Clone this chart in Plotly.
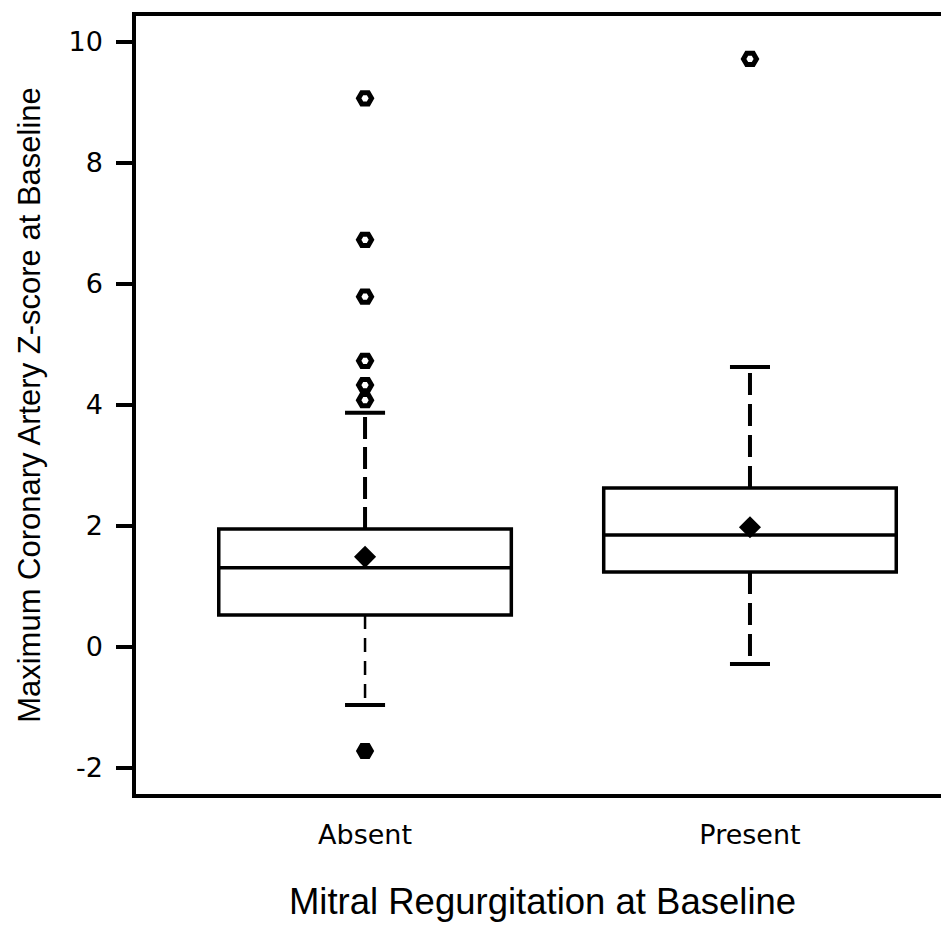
import plotly.graph_objects as go

# ---- data ----
categories = ["Absent", "Present"]
cat_pos = [0, 1]
q1 = [0.53, 1.24]
median = [1.31, 1.85]
q3 = [1.95, 2.63]
lower_whisker = [-0.96, -0.28]
upper_whisker = [3.87, 4.63]
means = [1.49, 1.98]
outliers_absent_high = [4.08, 4.33, 4.73, 5.79, 6.73, 9.07]
outliers_absent_low = [-1.72]
outliers_present_high = [9.72]

y_ticks = [-2, 0, 2, 4, 6, 8, 10]
y_tick_labels = ["-2", "0", "2", "4", "6", "8", "10"]

BOX_W = 0.76
CAP_HALF = 0.052
BLACK = "black"

fig = go.Figure()

# boxes (quartiles + median)
for i in range(len(categories)):
    fig.add_trace(go.Box(
        x=[cat_pos[i]], q1=[q1[i]], median=[median[i]], q3=[q3[i]],
        lowerfence=[q1[i]], upperfence=[q3[i]],
        width=BOX_W, whiskerwidth=0,
        fillcolor="rgba(0,0,0,0)",
        line=dict(color=BLACK, width=3.5),
        boxpoints=False, showlegend=False, hoverinfo="skip",
    ))

# dashed whiskers + caps
whisker_styles = [
    (dict(width=4, dash="22px,8px"), dict(width=2.5, dash="14px,9px")),
    (dict(width=4, dash="22px,9px"), dict(width=4, dash="22px,9px")),
]
for i in range(len(categories)):
    up_style, low_style = whisker_styles[i]
    fig.add_trace(go.Scatter(x=[cat_pos[i], cat_pos[i]], y=[q3[i], upper_whisker[i]],
                             mode="lines", line=dict(color=BLACK, **up_style),
                             showlegend=False, hoverinfo="skip"))
    fig.add_trace(go.Scatter(x=[cat_pos[i], cat_pos[i]], y=[q1[i], lower_whisker[i]],
                             mode="lines", line=dict(color=BLACK, **low_style),
                             showlegend=False, hoverinfo="skip"))
    for w in (upper_whisker[i], lower_whisker[i]):
        fig.add_trace(go.Scatter(x=[cat_pos[i] - CAP_HALF, cat_pos[i] + CAP_HALF], y=[w, w],
                                 mode="lines", line=dict(color=BLACK, width=4),
                                 showlegend=False, hoverinfo="skip"))

# means
fig.add_trace(go.Scatter(x=cat_pos, y=means, mode="markers",
                         marker=dict(symbol="diamond", size=17, color=BLACK),
                         showlegend=False, hoverinfo="skip"))

# outliers
open_marker = dict(symbol="hexagon2-open", size=13, color=BLACK,
                   line=dict(color=BLACK, width=5))
fig.add_trace(go.Scatter(x=[cat_pos[0]] * len(outliers_absent_high), y=outliers_absent_high,
                         mode="markers", marker=open_marker,
                         showlegend=False, hoverinfo="skip"))
fig.add_trace(go.Scatter(x=[cat_pos[1]] * len(outliers_present_high), y=outliers_present_high,
                         mode="markers", marker=open_marker,
                         showlegend=False, hoverinfo="skip"))
fig.add_trace(go.Scatter(x=[cat_pos[0]] * len(outliers_absent_low), y=outliers_absent_low,
                         mode="markers",
                         marker=dict(symbol="hexagon2", size=16, color=BLACK,
                                     line=dict(color=BLACK, width=2)),
                         showlegend=False, hoverinfo="skip"))

fig.update_layout(
    width=941, height=917,
    margin=dict(l=128, r=0, t=8, b=131),
    paper_bgcolor="white", plot_bgcolor="white",
    font=dict(family="Liberation Sans, Arial, sans-serif", color=BLACK),
    xaxis=dict(
        range=[-0.595, 1.517], tickmode="array", tickvals=cat_pos, ticktext=categories,
        showgrid=False, zeroline=False, showline=True, linecolor=BLACK, linewidth=3.5,
        mirror=True, ticks="", ticklabelstandoff=14,
        tickfont=dict(family="DejaVu Sans", size=27, color=BLACK),
        title=dict(text="Mitral Regurgitation at Baseline",
                   font=dict(family="Liberation Sans, Arial", size=36.5, color=BLACK),
                   standoff=40),
    ),
    yaxis=dict(
        range=[-2.43, 10.43], tickmode="array", tickvals=y_ticks, ticktext=y_tick_labels,
        showgrid=False, zeroline=False, showline=True, linecolor=BLACK, linewidth=3.5,
        mirror=False, ticks="outside", ticklen=16, tickwidth=3.5, tickcolor=BLACK,
        ticklabelstandoff=8,
        tickfont=dict(family="DejaVu Sans", size=27, color=BLACK),
        title=dict(text="Maximum Coronary Artery Z-score at Baseline",
                   font=dict(family="Liberation Sans, Arial", size=31, color=BLACK),
                   standoff=20),
    ),
)

fig.write_html("out.html")
